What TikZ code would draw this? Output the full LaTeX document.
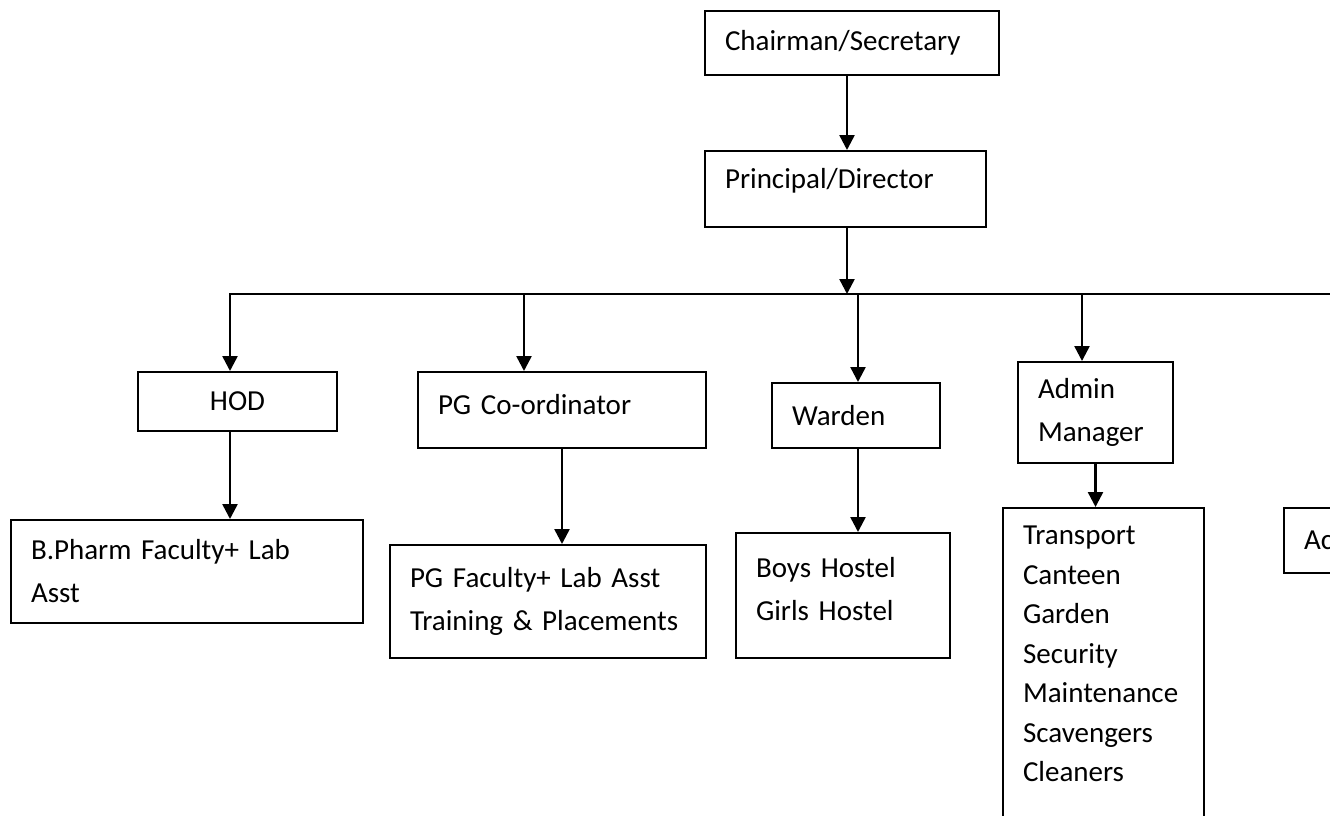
\documentclass[tikz,border=0pt]{standalone}
\usepackage{fontspec}
\setmainfont{Carlito}
\usetikzlibrary{arrows.meta,positioning}
\tikzstyle{block} = [rectangle, draw=black, line width=2pt, anchor=north west, align=left, inner xsep=20pt, inner ysep=0pt, font=\fontsize{29pt}{43pt}\selectfont]
\tikzstyle{line} = [draw=black, line width=2.5pt, -{Triangle[length=15pt,width=15pt]}]
\tikzstyle{bus} = [draw=black, line width=2.2pt]

\begin{document}
\begin{tikzpicture}[x=1pt,y=-1pt]
	\useasboundingbox (0,0) rectangle (1330,815);
	\clip (0,0) rectangle (1330,815);

	\node[block, text width=254pt, minimum height=64pt] (chair) at (704,10) {Chairman/Secretary};
	\node[block, text width=241pt, minimum height=76pt, text depth=21pt] (princ) at (704,150) {Principal/Director};
	\node[block, text width=159pt, minimum height=59pt, align=center] (hod) at (137,371) {HOD};
	\node[block, text width=248pt, minimum height=76pt, text depth=12pt] (pgc) at (417,371) {PG Co-ordinator};
	\node[block, text width=128pt, minimum height=65pt] (war) at (771,382) {Warden};
	\node[block, text width=115pt, minimum height=101pt] (adm) at (1017,361) {Admin\\Manager};
	\node[block, text width=312pt, minimum height=103pt] (bph) at (10,519) {B.Pharm Faculty+ Lab\\Asst};
	\node[block, text width=276pt, minimum height=113pt] (pgf) at (389,544) {PG Faculty+ Lab Asst\\Training \& Placements};
	\node[block, text width=174pt, minimum height=125pt, text depth=57pt] (hos) at (735,532) {Boys Hostel\\Girls Hostel};
	\node[block, text width=161pt, inner ysep=18pt, text depth=320pt, font=\fontsize{29pt}{39.5pt}\selectfont] (srv) at (1002,507) {Transport\\Canteen\\Garden\\Security\\Maintenance\\Scavengers\\Cleaners};
	\node[block, text width=160pt, minimum height=65pt] (acc) at (1283,507) {Ac};

	% bus line and drop points
	\coordinate (dhod) at (230,294);
	\coordinate (dpg) at (524,294);
	\coordinate (dpr) at (847,294);
	\coordinate (dwar) at (858,294);
	\coordinate (dadm) at (1082,294);
	\coordinate (busR) at (1345,294);

	\path[line] (chair.south -| dpr) -- (princ.north -| dpr);
	\path[line] (princ.south -| dpr) -- (dpr);
	\path[bus]  (dpr) -- (busR);
	\path[line] (busR) -- (dhod) -- (dhod |- hod.north);
	\path[line] (dpg) -- (dpg |- pgc.north);
	\path[line] (dwar) -- (dwar |- war.north);
	\path[line] (dadm) -- (dadm |- adm.north);

	\path[line] (hod.south -| dhod) -- (bph.north -| dhod);
	\path[line] (pgc.south) -- (pgc.south |- pgf.north);
	\path[line] (war.south -| dwar) -- (hos.north -| dwar);
	\path[line] (adm.south) -- (adm.south |- srv.north);
\end{tikzpicture}
\end{document}
